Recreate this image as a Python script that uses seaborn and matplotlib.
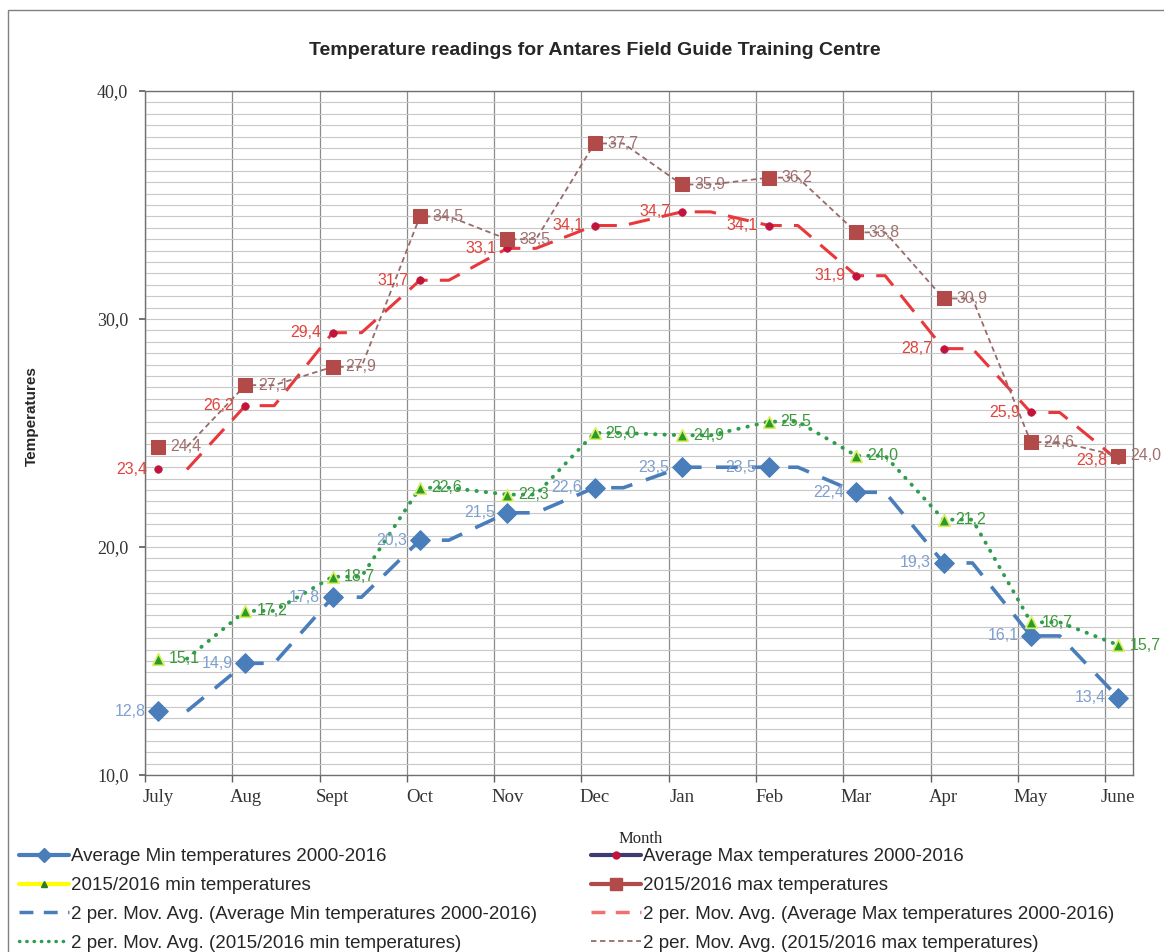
import matplotlib
matplotlib.use("Agg")
import numpy as np
import pandas as pd
import matplotlib.pyplot as plt
import seaborn as sns
from matplotlib.lines import Line2D
from matplotlib.patches import Rectangle
from matplotlib.ticker import FuncFormatter, MultipleLocator, FixedLocator

# Datos (lectura del gráfico)
months = ['July', 'Aug', 'Sept', 'Oct', 'Nov', 'Dec', 'Jan', 'Feb', 'Mar', 'Apr', 'May', 'June']
avg_min = [12.8, 14.9, 17.8, 20.3, 21.5, 22.6, 23.5, 23.5, 22.4, 19.3, 16.1, 13.4]
avg_max = [23.4, 26.2, 29.4, 31.7, 33.1, 34.1, 34.7, 34.1, 31.9, 28.7, 25.9, 23.8]
min_1516 = [15.1, 17.2, 18.7, 22.6, 22.3, 25.0, 24.9, 25.5, 24.0, 21.2, 16.7, 15.7]
max_1516 = [24.4, 27.1, 27.9, 34.5, 33.5, 37.7, 35.9, 36.2, 33.8, 30.9, 24.6, 24.0]

labels = ['Average Min temperatures 2000-2016', 'Average Max temperatures 2000-2016',
          '2015/2016 min temperatures', '2015/2016 max temperatures']

df = pd.DataFrame({'month': months, 'x': range(len(months)),
                   'avg_min': avg_min, 'avg_max': avg_max,
                   'min_1516': min_1516, 'max_1516': max_1516})

sns.set_theme(style="white")
plt.rcParams['font.family'] = ['Liberation Sans', 'DejaVu Sans']

fig = plt.figure(figsize=(11.64, 9.52), dpi=100)
ax = fig.add_axes([0.1246, 0.1859, 0.8488, 0.7185])

def comma(v):
    return f'{v:.1f}'.replace('.', ',')

def trend_path(ys, shift=0.33):
    # linea de tendencia con tramo horizontal tras cada punto
    px, py = [shift], [ys[0]]
    for i in range(1, len(ys)):
        px.append(i); py.append(ys[i])
        if i < len(ys) - 1:
            px.append(i + shift); py.append(ys[i])
    return px, py

# colores
c_min, c_max, c_gmin, c_gmax = '#4A7EBB', '#C0143C', '#2E9E2E', '#B24A4A'

# lineas de tendencia
tx, ty = trend_path(avg_min)
ax.plot(tx, ty, color=c_min, lw=2.6, dashes=(6, 4), zorder=3)
tx, ty = trend_path(avg_max)
ax.plot(tx, ty, color='#E8383C', lw=2.2, dashes=(7, 4), zorder=3)
tx, ty = trend_path(min_1516)
ax.plot(tx, ty, color='#2E9E4E', lw=2.8, dashes=(0.1, 2.3), dash_capstyle='round', zorder=3)
tx, ty = trend_path(max_1516)
ax.plot(tx, ty, color='#9A6A6A', lw=1.3, dashes=(3, 2), zorder=3)

# marcadores
sns.scatterplot(data=df, x='x', y='avg_min', marker='D', s=100, color=c_min,
                edgecolor=c_min, ax=ax, zorder=4)
sns.scatterplot(data=df, x='x', y='avg_max', marker='o', s=30, color=c_max,
                edgecolor=c_max, ax=ax, zorder=4)
sns.scatterplot(data=df, x='x', y='min_1516', marker='^', s=70, color='#2A9A2A',
                edgecolor='#D8F060', linewidth=1.2, ax=ax, zorder=4)
sns.scatterplot(data=df, x='x', y='max_1516', marker='s', s=90, color=c_gmax,
                edgecolor=c_gmax, ax=ax, zorder=4)

# etiquetas de datos
fs_lab = 11.5
for i in range(len(months)):
    ax.annotate(comma(avg_min[i]), (i, avg_min[i]), xytext=(-9, 0), textcoords='offset points',
                ha='right', va='center', fontsize=fs_lab, color='#7F9FCF', zorder=5)
    ax.annotate(comma(avg_max[i]), (i, avg_max[i]), xytext=(-8, 0), textcoords='offset points',
                ha='right', va='center', fontsize=fs_lab, color='#E0443C', zorder=5)
    ax.annotate(comma(min_1516[i]), (i, min_1516[i]), xytext=(8, 0), textcoords='offset points',
                ha='left', va='center', fontsize=fs_lab, color='#3C9A3C', zorder=5)
    ax.annotate(comma(max_1516[i]), (i, max_1516[i]), xytext=(9, 0), textcoords='offset points',
                ha='left', va='center', fontsize=fs_lab, color='#A07070', zorder=5)

# ejes
ax.set_xlim(-0.15, len(months) - 1 + 0.17)
ax.set_ylim(10, 40)
ax.set_xticks(range(len(months)))
ax.set_xticklabels(months, family='Liberation Serif', fontsize=13.5)
ax.xaxis.set_minor_locator(FixedLocator([i - 0.15 for i in range(len(months))]))
ax.yaxis.set_major_locator(MultipleLocator(10))
ax.yaxis.set_minor_locator(MultipleLocator(0.5))
ax.yaxis.set_major_formatter(FuncFormatter(lambda v, p: comma(v)))
for t in ax.get_yticklabels():
    t.set_family('Liberation Serif')
    t.set_fontsize(13)
ax.tick_params(axis='x', which='major', length=0, pad=10, colors='#333333')
ax.tick_params(axis='x', which='minor', length=5, color='#606060', direction='out', bottom=True)
ax.tick_params(axis='y', which='major', length=4, color='#606060', pad=8, colors='#333333', left=True)
ax.tick_params(axis='y', which='minor', length=0)
ax.grid(which='minor', axis='y', color='#C8C8C8', lw=0.8)
ax.grid(which='major', axis='y', color='#C8C8C8', lw=0.8)
ax.grid(which='minor', axis='x', color='#8C8C8C', lw=0.9)
ax.grid(which='major', axis='x', visible=False)
for s in ax.spines.values():
    s.set_color('#707070')
    s.set_linewidth(1.0)

ax.set_xlabel('')
ax.set_ylabel('')
fig.text(0.0275, 0.563, 'Temperatures', rotation=90, ha='center', va='center',
         fontsize=11, fontweight='bold')
fig.text(0.5507, 0.119, 'Month', ha='center', va='center',
         family='Liberation Serif', fontsize=12)
fig.text(0.511, 0.947, 'Temperature readings for Antares Field Guide Training Centre',
         ha='center', va='center', fontsize=14, fontweight='bold')

# leyenda
handles = [
    Line2D([], [], color=c_min, lw=3, marker='D', ms=7),
    Line2D([], [], color='#3C3C70', lw=3, marker='o', ms=5, mfc=c_max, mec=c_max),
    Line2D([], [], color='#FFFF00', lw=3, marker='^', ms=5, mfc='#2A7A2A', mec='#2A7A2A'),
    Line2D([], [], color=c_gmax, lw=3, marker='s', ms=8),
    Line2D([], [], color=c_min, lw=2.5, dashes=(4, 3)),
    Line2D([], [], color='#F07070', lw=2.5, dashes=(4, 3)),
    Line2D([], [], color='#2E9E4E', lw=2.5, dashes=(0.1, 2), dash_capstyle='round'),
    Line2D([], [], color='#9A6A6A', lw=1.3, dashes=(3, 2)),
]
leg_labels = [labels[0], labels[1], labels[2], labels[3],
              '2 per. Mov. Avg. (' + labels[0] + ')', '2 per. Mov. Avg. (' + labels[1] + ')',
              '2 per. Mov. Avg. (' + labels[2] + ')', '2 per. Mov. Avg. (' + labels[3] + ')']
# orden por filas en dos columnas
order = [0, 2, 4, 6, 1, 3, 5, 7]
fig.legend([handles[i] for i in order], [leg_labels[i] for i in order], ncol=2,
           loc='upper left', bbox_to_anchor=(0.016, 0.109), frameon=False,
           fontsize=13.5, handlelength=2.7, handletextpad=0.1, labelspacing=0.62,
           columnspacing=2.85, borderaxespad=0, borderpad=0)

# marco exterior (solo visible arriba e izquierda)
fig.patches.append(Rectangle((0.007, -0.1), 1.2, 1.0895, transform=fig.transFigure,
                             fill=False, edgecolor='#808080', lw=1.0))

fig.savefig('out.png', dpi=100)
